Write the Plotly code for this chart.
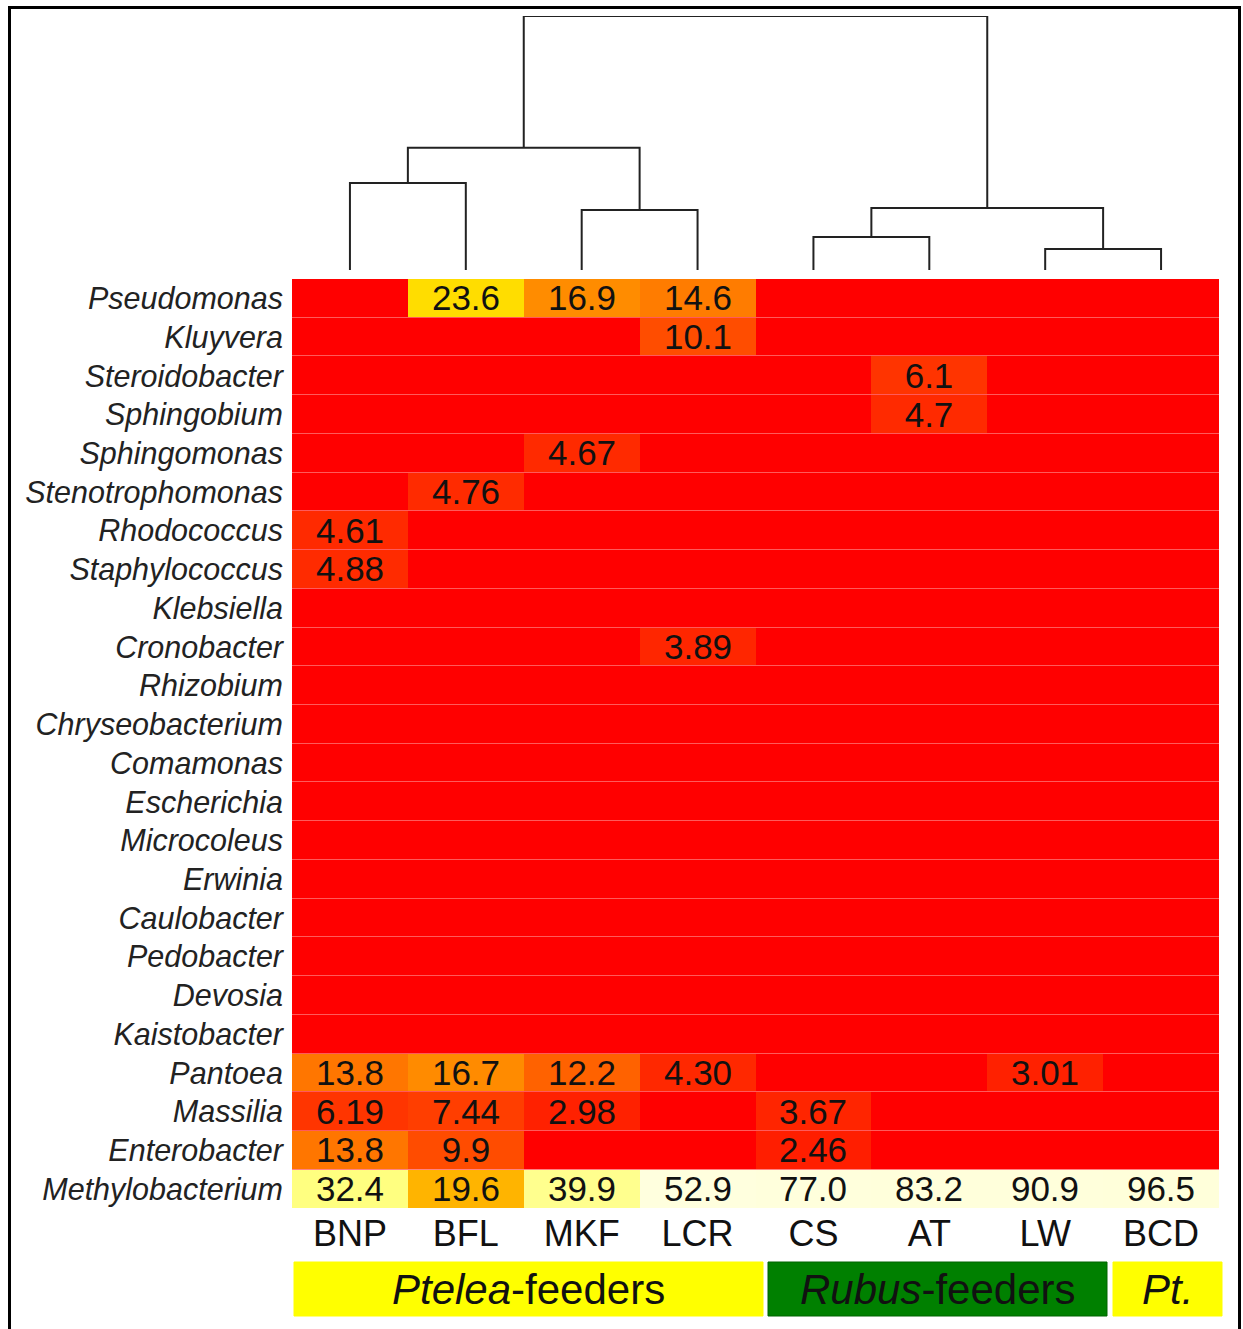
import plotly.graph_objects as go

W, H = 1243, 1329

samples = ["BNP", "BFL", "MKF", "LCR", "CS", "AT", "LW", "BCD"]
genera = ["Pseudomonas", "Kluyvera", "Steroidobacter", "Sphingobium", "Sphingomonas",
          "Stenotrophomonas", "Rhodococcus", "Staphylococcus", "Klebsiella", "Cronobacter",
          "Rhizobium", "Chryseobacterium", "Comamonas", "Escherichia", "Microcoleus",
          "Erwinia", "Caulobacter", "Pedobacter", "Devosia", "Kaistobacter",
          "Pantoea", "Massilia", "Enterobacter", "Methylobacterium"]

# labelled relative abundances (%) per sample, one entry per genus ('' = not labelled / low)
BNP = ["", "", "", "", "", "", "4.61", "4.88", "", "", "", "", "", "", "", "", "", "", "", "",
       "13.8", "6.19", "13.8", "32.4"]
BFL = ["23.6", "", "", "", "", "4.76", "", "", "", "", "", "", "", "", "", "", "", "", "", "",
       "16.7", "7.44", "9.9", "19.6"]
MKF = ["16.9", "", "", "", "4.67", "", "", "", "", "", "", "", "", "", "", "", "", "", "", "",
       "12.2", "2.98", "", "39.9"]
LCR = ["14.6", "10.1", "", "", "", "", "", "", "", "3.89", "", "", "", "", "", "", "", "", "", "",
       "4.30", "", "", "52.9"]
CS = ["", "", "", "", "", "", "", "", "", "", "", "", "", "", "", "", "", "", "", "",
      "", "3.67", "2.46", "77.0"]
AT = ["", "", "6.1", "4.7", "", "", "", "", "", "", "", "", "", "", "", "", "", "", "", "",
      "", "", "", "83.2"]
LW = ["", "", "", "", "", "", "", "", "", "", "", "", "", "", "", "", "", "", "", "",
      "3.01", "", "", "90.9"]
BCD = ["", "", "", "", "", "", "", "", "", "", "", "", "", "", "", "", "", "", "", "",
       "", "", "", "96.5"]

# dendrogram over samples: (child a, child b, merge height); leaves are 0..7
merges = [(0, 1, 0.343), (2, 3, 0.236), (8, 9, 0.481),
          (4, 5, 0.130), (6, 7, 0.083), (11, 12, 0.244), (10, 13, 1.0)]

groups = ["<i>Ptelea</i>-feeders", "<i>Rubus</i>-feeders", "<i>Pt.</i>"]

columns = [BNP, BFL, MKF, LCR, CS, AT, LW, BCD]
text = [[columns[j][i] for j in range(len(samples))] for i in range(len(genera))]
z = [[float(t) if t else 0.0 for t in row] for row in text]

colorscale = [
    [0.0, "#FF0000"], [0.02, "#FF1C00"], [0.05, "#FF2C00"], [0.08, "#FF4200"],
    [0.10, "#FF4C00"], [0.122, "#FF6200"], [0.138, "#FF7600"], [0.169, "#FF8C00"],
    [0.196, "#FFB400"], [0.236, "#FFDD00"], [0.324, "#FFFF80"], [0.399, "#FFFF8E"],
    [0.529, "#FFFFDE"], [1.0, "#FFFFDA"],
]

def px(x):
    return x / W

def py(y):
    return 1 - y / H

FONT = "Liberation Sans, Arial, sans-serif"

fig = go.Figure()
fig.add_trace(go.Heatmap(
    z=z, x=list(range(len(samples))), y=list(range(len(genera))),
    text=text, texttemplate="%{text}",
    textfont=dict(size=35, color="#111111", family=FONT),
    colorscale=colorscale, zmin=0, zmax=100, showscale=False,
    ygap=1, hoverinfo="skip", xaxis="x", yaxis="y",
))

# dendrogram from linkage
node_x = {i: float(i) for i in range(len(samples))}
node_h = {i: 0.0 for i in range(len(samples))}
lx, ly = [], []
nid = len(samples)
for a, b, h in merges:
    lx += [node_x[a], node_x[a], node_x[b], node_x[b], None]
    ly += [node_h[a], h, h, node_h[b], None]
    node_x[nid] = (node_x[a] + node_x[b]) / 2
    node_h[nid] = h
    nid += 1
fig.add_trace(go.Scatter(x=lx, y=ly, mode="lines", line=dict(color="#222222", width=2),
                         hoverinfo="skip", xaxis="x2", yaxis="y2", showlegend=False))

hm_x = [px(292), px(1219)]
fig.update_layout(
    width=W, height=H, margin=dict(l=0, r=0, t=0, b=0),
    paper_bgcolor="white", plot_bgcolor="white", showlegend=False,
    xaxis=dict(domain=hm_x, range=[-0.5, 7.5], tickvals=list(range(8)), ticktext=samples,
               tickfont=dict(size=36, color="#111111", family=FONT), ticks="",
               ticklabelstandoff=0, showgrid=False, zeroline=False, showline=False),
    yaxis=dict(domain=[py(1208.5), py(279)], range=[23.5, -0.5], tickvals=list(range(24)),
               ticktext=["<i>%s</i>" % g for g in genera],
               tickfont=dict(size=30.5, color="#222222", family=FONT), ticks="",
               ticklabelstandoff=8, showgrid=False, zeroline=False, showline=False),
    xaxis2=dict(domain=hm_x, range=[-0.5, 7.5], visible=False, anchor="y2"),
    yaxis2=dict(domain=[py(270), py(16)], range=[0, 1.0], visible=False, anchor="x2"),
)

shapes = [dict(type="rect", xref="x", yref="y", x0=-0.5, x1=7.5, y0=-0.47, y1=22.5,
               fillcolor="#FF5A5A", line=dict(width=0), layer="below")]
annotations = []
boxes = [(294, 763, "#FFFF00", "#FFFF00"), (768, 1107, "#008000", "#006400"),
         (1113, 1222, "#FFFF00", "#FFFF00")]
for (x0, x1, fill, edge), label in zip(boxes, groups):
    shapes.append(dict(type="rect", xref="paper", yref="paper", x0=px(x0), x1=px(x1),
                       y0=py(1316), y1=py(1262), fillcolor=fill,
                       line=dict(color=edge, width=1), layer="below"))
    annotations.append(dict(xref="paper", yref="paper", x=px((x0 + x1) / 2), y=py(1289),
                            text=label, showarrow=False, xanchor="center", yanchor="middle",
                            font=dict(size=42, color="#111111", family=FONT)))
shapes.append(dict(type="rect", xref="paper", yref="paper", x0=px(9.5), x1=px(1239.5),
                   y0=-0.05, y1=py(7.5), line=dict(color="black", width=3),
                   fillcolor="rgba(0,0,0,0)"))
fig.update_layout(shapes=shapes, annotations=annotations)

fig.write_html("out.html")
